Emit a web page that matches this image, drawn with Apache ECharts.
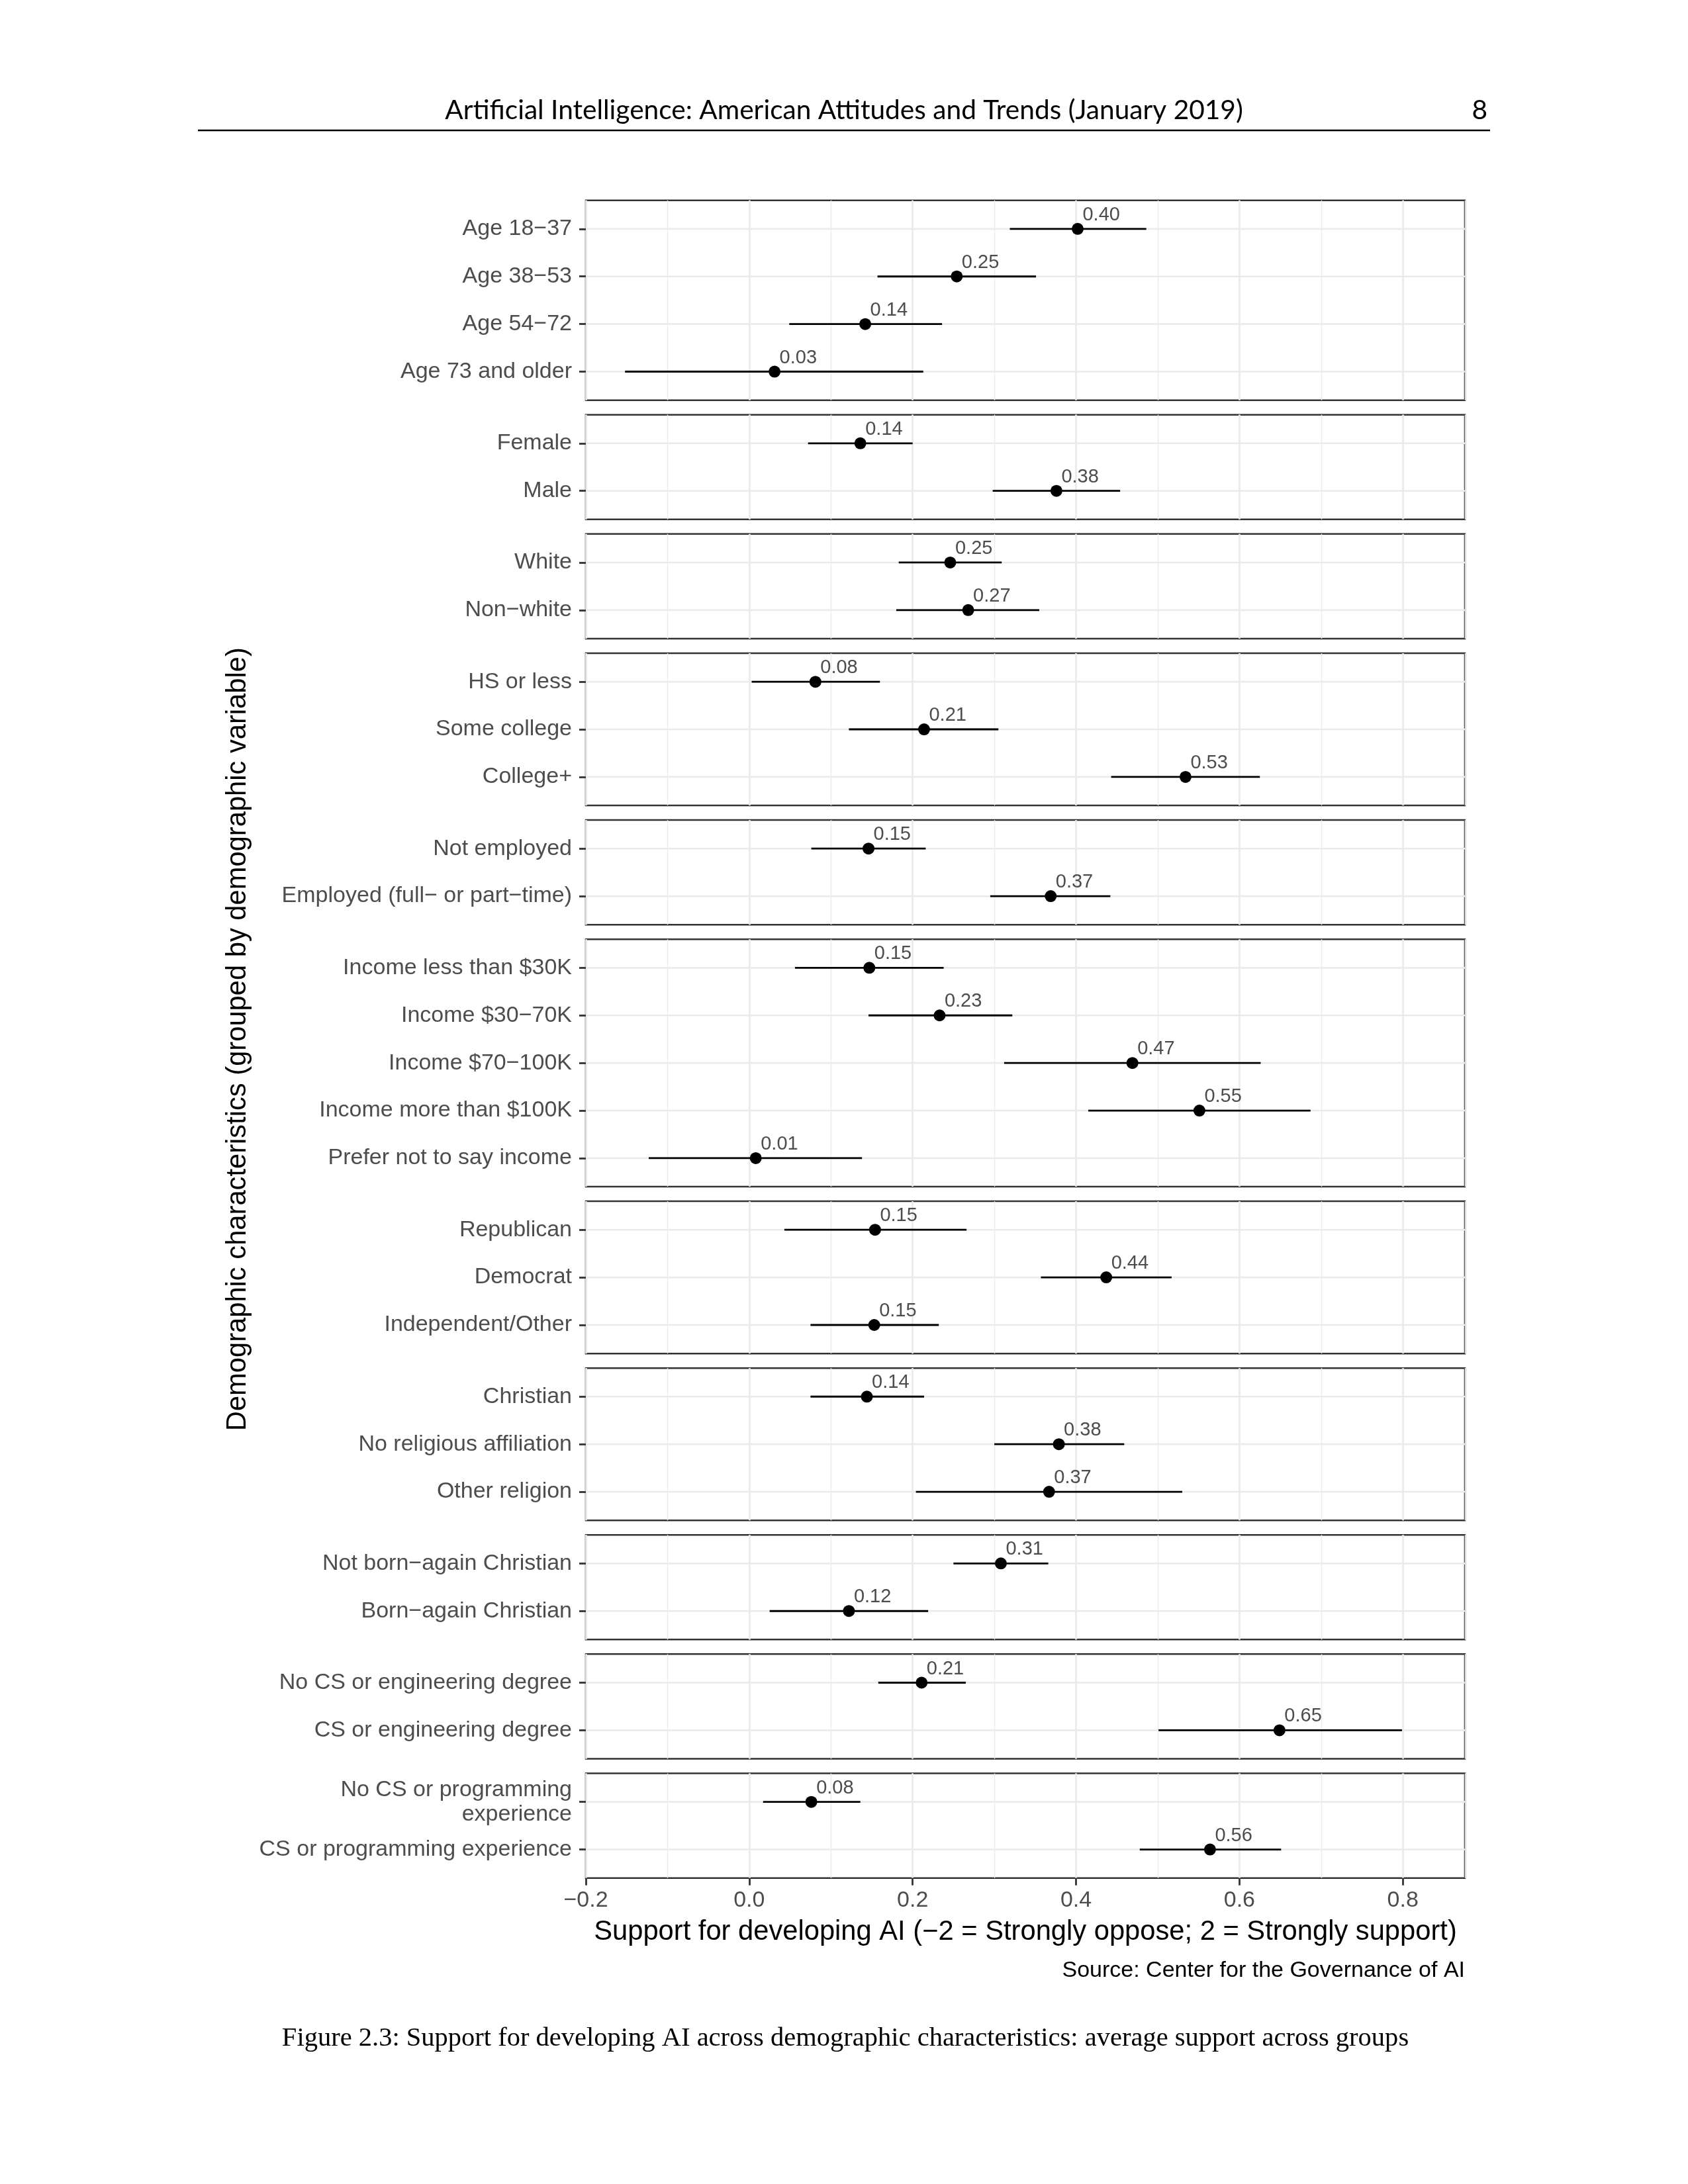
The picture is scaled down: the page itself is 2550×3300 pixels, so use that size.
<!DOCTYPE html>
<html><head><meta charset="utf-8">
<script src="https://cdn.jsdelivr.net/npm/echarts@6/dist/echarts.min.js"></script>
<style>html,body{margin:0;padding:0;background:#fff}#c{width:2550px;height:3300px}</style>
</head><body><div id="c"></div>
<script>
// ---------------- DATA ----------------
const categories = [
  "Age 18−37","Age 38−53","Age 54−72","Age 73 and older",
  "Female","Male",
  "White","Non−white",
  "HS or less","Some college","College+",
  "Not employed","Employed (full− or part−time)",
  "Income less than $30K","Income $30−70K","Income $70−100K","Income more than $100K","Prefer not to say income",
  "Republican","Democrat","Independent/Other",
  "Christian","No religious affiliation","Other religion",
  "Not born−again Christian","Born−again Christian",
  "No CS or engineering degree","CS or engineering degree",
  "No CS or programming\nexperience","CS or programming experience"
];
const groupSizes = [4, 2, 2, 3, 2, 5, 3, 3, 2, 2, 2];
const estimate = [0.402,0.254,0.142,0.031, 0.136,0.376, 0.246,0.268, 0.081,0.214,0.534, 0.146,0.369,
  0.147,0.233,0.469,0.551,0.008, 0.154,0.437,0.153, 0.144,0.379,0.367, 0.308,0.122, 0.211,0.649, 0.076,0.564];
const lower = [0.319,0.157,0.049,-0.152, 0.072,0.298, 0.183,0.180, 0.003,0.122,0.443, 0.076,0.295,
  0.056,0.146,0.312,0.415,-0.123, 0.043,0.357,0.075, 0.075,0.300,0.204, 0.250,0.025, 0.158,0.501, 0.017,0.478];
const upper = [0.486,0.351,0.236,0.213, 0.200,0.454, 0.309,0.355, 0.160,0.305,0.625, 0.216,0.442,
  0.238,0.322,0.626,0.687,0.138, 0.266,0.517,0.232, 0.214,0.459,0.530, 0.366,0.219, 0.265,0.799, 0.136,0.651];
const xTicks = [-0.2, 0.0, 0.2, 0.4, 0.6, 0.8];
const xMin = -0.2, xMax = 0.876;

const headerText = "Artificial Intelligence: American Attitudes and Trends (January 2019)";
const pageNumber = "8";
const xTitle = "Support for developing AI (−2 = Strongly oppose; 2 = Strongly support)";
const yTitle = "Demographic characteristics (grouped by demographic variable)";
const sourceText = "Source: Center for the Governance of AI";
const captionText = "Figure 2.3: Support for developing AI across demographic characteristics: average support across groups";

// ---------------- LAYOUT ----------------
const PL = 885, PR = 2213, PT = 302.7, PB = 2837.7, GAP = 22, PAD = 0.6;
const G = groupSizes.length, N = categories.length;
const step = (PB - PT - GAP * (G - 1)) / (N - G + 2 * PAD * G);
const FONT = '"Liberation Sans", Arial, Helvetica, sans-serif';

function fitSize(text, family, target, base) {
  const c = document.createElement('canvas').getContext('2d');
  c.font = base + 'px ' + family;
  return base * target / c.measureText(text).width;
}
const fmtTick = v => (v < 0 ? '−' : '') + Math.abs(v).toFixed(1);

const grids = [], xAxes = [], yAxes = [], series = [];
let panelTop = PT, offset = 0;
groupSizes.forEach((n, gi) => {
  const h = (n - 1 + 2 * PAD) * step;
  const isLast = gi === G - 1;
  grids.push({left: PL, top: panelTop, width: PR - PL, height: h, show: true,
    borderColor: '#333333', borderWidth: 2.5, backgroundColor: 'transparent',
    containLabel: false, outerBoundsMode: 'none'});
  // major grid axis (bottom)
  xAxes.push({type: 'value', gridIndex: gi, position: 'bottom', min: xMin, max: xMax, interval: 0.2,
    axisLine: {show: false, onZero: false},
    axisTick: {show: isLast, customValues: xTicks, length: 11, lineStyle: {color: '#333333', width: 2.8}},
    axisLabel: {show: isLast, customValues: xTicks, formatter: fmtTick, fontSize: 34,
      fontFamily: FONT, color: '#4d4d4d', margin: 17},
    splitLine: {show: true, lineStyle: {color: '#ebebeb', width: 2.6}}});
  // minor grid axis (hidden)
  xAxes.push({type: 'value', gridIndex: gi, position: 'top', min: xMin, max: xMax, interval: 0.1,
    axisLine: {show: false, onZero: false}, axisTick: {show: false}, axisLabel: {show: false},
    splitLine: {show: true, lineStyle: {color: '#ebebeb', width: 1.4}}});
  const rows = [];
  for (let k = 0; k < n; k++) rows.push(k);
  const off = offset;
  yAxes.push({type: 'value', gridIndex: gi, position: 'left', min: -PAD, max: n - 1 + PAD, inverse: true,
    axisLine: {show: false, onZero: false}, splitLine: {show: false},
    axisTick: {show: true, customValues: rows, length: 10, lineStyle: {color: '#333333', width: 2.8}},
    axisLabel: {show: true, customValues: rows, formatter: v => categories[off + Math.round(v)],
      fontSize: 34, fontFamily: FONT, color: '#4d4d4d', margin: 21, lineHeight: 37}});
  const data = rows.map(k => [estimate[off + k], k, lower[off + k], upper[off + k]]);
  series.push({type: 'custom', xAxisIndex: 2 * gi, yAxisIndex: gi, data: data, clip: false,
    renderItem: function (params, api) {
      const r = api.value(1);
      const p = api.coord([api.value(0), r]);
      const lo = api.coord([api.value(2), r]);
      const hi = api.coord([api.value(3), r]);
      const cs = params.coordSys;
      return {type: 'group', children: [
        {type: 'line', shape: {x1: cs.x, y1: p[1], x2: cs.x + cs.width, y2: p[1]},
          style: {stroke: '#ebebeb', lineWidth: 2.6}},
        {type: 'line', shape: {x1: lo[0], y1: p[1], x2: hi[0], y2: p[1]},
          style: {stroke: '#000000', lineWidth: 2.8}},
        {type: 'circle', shape: {cx: p[0], cy: p[1], r: 9}, style: {fill: '#000000'}},
        {type: 'text', x: p[0] + 7.5, y: p[1] - 21,
          style: {text: api.value(0).toFixed(2), fill: '#4d4d4d', fontSize: 29, fontFamily: FONT,
            align: 'left', verticalAlign: 'middle'}}
      ]};
    }});
  panelTop += h + GAP;
  offset += n;
});

const headerFamily = 'Lato, "Open Sans", sans-serif';
const headerSize = fitSize(headerText, headerFamily, 1206, 40);
const capFamily = '"Liberation Serif", "DejaVu Serif", serif';
const capSize = fitSize(captionText, capFamily, 1703, 36);

const graphics = [
  {type: 'text', x: 1275, y: 167, style: {text: headerText, fill: '#000', fontSize: headerSize,
    fontFamily: headerFamily, align: 'center', verticalAlign: 'middle'}},
  {type: 'text', x: 2247, y: 167, style: {text: pageNumber, fill: '#000', fontSize: headerSize,
    fontFamily: headerFamily, align: 'right', verticalAlign: 'middle'}},
  {type: 'line', shape: {x1: 299, y1: 197, x2: 2251, y2: 197}, style: {stroke: '#000', lineWidth: 2.5}},
  {type: 'text', x: (PL + PR) / 2, y: 2920, style: {text: xTitle, fill: '#000', fontSize: 41.7,
    fontFamily: FONT, align: 'center', verticalAlign: 'middle'}},
  {type: 'text', x: 360, y: (PT + PB) / 2, rotation: Math.PI / 2, style: {text: yTitle, fill: '#000',
    fontSize: 41.7, fontFamily: FONT, align: 'center', verticalAlign: 'middle'}},
  {type: 'text', x: PR, y: 2978, style: {text: sourceText, fill: '#000', fontSize: 34,
    fontFamily: FONT, align: 'right', verticalAlign: 'middle'}},
  {type: 'text', x: 1277, y: 3080, style: {text: captionText, fill: '#000', fontSize: capSize,
    fontFamily: capFamily, align: 'center', verticalAlign: 'middle'}}
];

const chart = echarts.init(document.getElementById('c'), null, {renderer: 'canvas', width: 2550, height: 3300});
chart.setOption({
  backgroundColor: '#ffffff',
  animation: false,
  grid: grids, xAxis: xAxes, yAxis: yAxes, series: series,
  graphic: {elements: graphics}
});
</script></body></html>
